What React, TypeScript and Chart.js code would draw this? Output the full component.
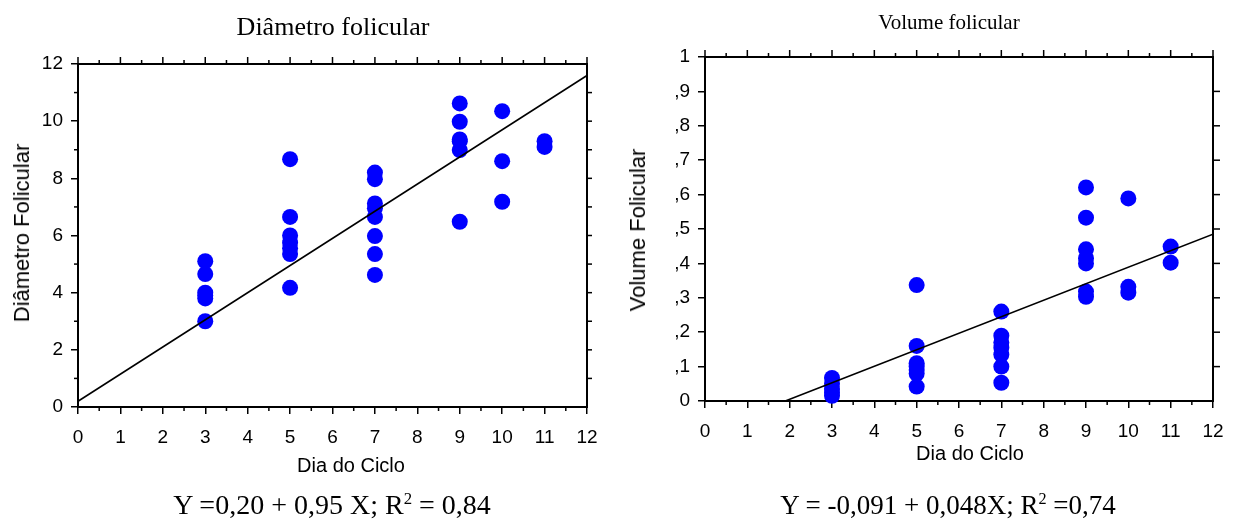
import React, { useEffect, useRef } from 'react';
import { Chart, registerables } from 'chart.js';

Chart.register(...registerables);

// ---------------- Data ----------------
const dayTicks = [0, 1, 2, 3, 4, 5, 6, 7, 8, 9, 10, 11, 12];
const diameterTicks = [0, 2, 4, 6, 8, 10, 12];
const volumeTicks = [0, 0.1, 0.2, 0.3, 0.4, 0.5, 0.6, 0.7, 0.8, 0.9, 1];

const diameterDays = [3, 3, 3, 3, 3, 3, 5, 5, 5, 5, 5, 5, 5, 7, 7, 7, 7, 7, 7, 7, 7, 9, 9, 9, 9, 9, 9, 10, 10, 10, 11, 11];
const diameterValues = [5.1, 4.65, 4.0, 3.9, 3.8, 3.0, 8.67, 6.65, 6.0, 5.75, 5.55, 5.35, 4.17, 8.2, 7.97, 7.12, 6.95, 6.65, 5.98, 5.35, 4.62, 10.62, 9.98, 9.36, 9.3, 8.99, 6.48, 10.35, 8.6, 7.18, 9.3, 9.1];

const volumeDays = [3, 3, 3, 3, 3, 5, 5, 5, 5, 5, 5, 5, 7, 7, 7, 7, 7, 7, 7, 9, 9, 9, 9, 9, 9, 9, 10, 10, 10, 11, 11];
const volumeValues = [0.067, 0.05, 0.035, 0.025, 0.015, 0.337, 0.16, 0.11, 0.1, 0.09, 0.08, 0.042, 0.26, 0.19, 0.17, 0.155, 0.135, 0.1, 0.053, 0.621, 0.533, 0.441, 0.415, 0.4, 0.318, 0.303, 0.589, 0.332, 0.315, 0.449, 0.402];

const diameterFit = [0.2, 0.95]; // intercept, slope
const volumeFit = [-0.091, 0.048];

// ---------------- Styles ----------------
const SANS = "'Liberation Sans', Arial, sans-serif";
const SERIF = "'Liberation Serif', 'Times New Roman', serif";
const DOT = '#0000ff';

type Panel = {
  days: number[];
  values: number[];
  fit: number[];
  yTicks: number[];
  yMax: number;
  yLabel: (v: number) => string;
  yMinor: number[];
  rightTicks: number[];
  rightLen: number;
  pad: { left: number; top: number; right: number; bottom: number };
  yWidth: number;
  xHeight: number;
};

function framePlugin(p: Panel) {
  return {
    id: 'frameTicks',
    afterDraw(chart: any) {
      const { ctx, chartArea: a, scales } = chart;
      const x = scales.x;
      const y = scales.y;
      ctx.save();
      ctx.strokeStyle = '#000';
      ctx.lineWidth = 2;
      ctx.beginPath();
      ctx.moveTo(a.left - 1, a.top);
      ctx.lineTo(a.right, a.top);
      ctx.lineTo(a.right, a.bottom + 1);
      ctx.stroke();
      ctx.lineWidth = 1.5;
      const seg = (x1: number, y1: number, x2: number, y2: number) => {
        ctx.beginPath();
        ctx.moveTo(x1, y1);
        ctx.lineTo(x2, y2);
        ctx.stroke();
      };
      dayTicks.forEach((d) => {
        const px = x.getPixelForValue(d);
        seg(px, a.top, px, a.top - 7);
        if (d < dayTicks[dayTicks.length - 1]) {
          const pm = x.getPixelForValue(d + 0.5);
          seg(pm, a.top, pm, a.top - 4);
          seg(pm, a.bottom, pm, a.bottom + 4);
        }
      });
      p.yMinor.forEach((v) => {
        const py = y.getPixelForValue(v);
        seg(a.left, py, a.left - 4, py);
      });
      p.rightTicks.forEach((v) => {
        const py = y.getPixelForValue(v);
        seg(a.right, py, a.right + p.rightLen, py);
      });
      ctx.restore();
    },
  };
}

function makeConfig(p: Panel): any {
  const points = p.days.map((d, i) => ({ x: d, y: p.values[i] }));
  const line = [0, 12].map((d) => ({ x: d, y: p.fit[0] + p.fit[1] * d }));
  const tickFont = { family: SANS, size: 19 };
  return {
    type: 'scatter',
    data: {
      datasets: [
        {
          data: line,
          showLine: true,
          borderColor: '#000',
          borderWidth: 1.6,
          pointRadius: 0,
          fill: false,
        },
        {
          data: points,
          backgroundColor: DOT,
          borderColor: DOT,
          borderWidth: 0,
          pointRadius: 8,
          clip: false,
        },
      ],
    },
    options: {
      animation: false,
      responsive: false,
      events: [],
      layout: { padding: p.pad },
      plugins: { legend: { display: false }, tooltip: { enabled: false }, title: { display: false } },
      scales: {
        x: {
          type: 'linear',
          min: 0,
          max: 12,
          afterBuildTicks: (s: any) => {
            s.ticks = dayTicks.map((value) => ({ value }));
          },
          afterFit: (s: any) => {
            s.height = p.xHeight;
          },
          grid: { drawOnChartArea: false, drawTicks: true, tickLength: 7, color: '#000', lineWidth: 1.5 },
          border: { display: true, color: '#000', width: 2 },
          ticks: { color: '#000', font: tickFont, padding: 12, maxRotation: 0, autoSkip: false, callback: (v: any) => String(v) },
        },
        y: {
          type: 'linear',
          min: 0,
          max: p.yMax,
          afterBuildTicks: (s: any) => {
            s.ticks = p.yTicks.map((value) => ({ value }));
          },
          afterFit: (s: any) => {
            s.width = p.yWidth;
          },
          grid: { drawOnChartArea: false, drawTicks: true, tickLength: 7, color: '#000', lineWidth: 1.5 },
          border: { display: true, color: '#000', width: 2 },
          ticks: { color: '#000', font: tickFont, padding: 8, autoSkip: false, callback: (v: any) => p.yLabel(Number(v)) },
        },
      },
    },
    plugins: [framePlugin(p)],
  };
}

const leftPanel: Panel = {
  days: diameterDays,
  values: diameterValues,
  fit: diameterFit,
  yTicks: diameterTicks,
  yMax: 12,
  yLabel: (v) => String(v),
  yMinor: [1, 3, 5, 7, 9, 11],
  rightTicks: [1, 2, 3, 4, 5, 6, 7, 8, 9, 10, 11],
  rightLen: 5,
  pad: { left: 0, top: 64, right: 32, bottom: 0 },
  yWidth: 78,
  xHeight: 116,
};

const rightPanel: Panel = {
  days: volumeDays,
  values: volumeValues,
  fit: volumeFit,
  yTicks: volumeTicks,
  yMax: 1,
  yLabel: (v) => (v === 0 ? '0' : v >= 0.999 ? '1' : ',' + Math.round(v * 10)),
  yMinor: [],
  rightTicks: [0.1, 0.2, 0.3, 0.4, 0.5, 0.6, 0.7, 0.8, 0.9],
  rightLen: 7,
  pad: { left: 0, top: 57, right: 25, bottom: 0 },
  yWidth: 86,
  xHeight: 122,
};

function ChartCanvas({ panel, left }: { panel: Panel; left: number }) {
  const ref = useRef<HTMLCanvasElement | null>(null);
  useEffect(() => {
    if (!ref.current) return;
    const chart = new Chart(ref.current, makeConfig(panel));
    return () => chart.destroy();
  }, [panel]);
  return (
    <canvas
      ref={ref}
      width={619}
      height={523}
      style={{ position: 'absolute', left, top: 0, width: 619, height: 523 }}
    />
  );
}

function Label({ x, y, font, size, rotate, children }: any) {
  return (
    <div
      style={{
        position: 'absolute',
        left: x,
        top: y,
        transform: `translate(-50%, -50%)${rotate ? ' rotate(-90deg)' : ''}`,
        fontFamily: font,
        fontSize: size,
        lineHeight: 1,
        whiteSpace: 'nowrap',
        color: '#000',
      }}
    >
      {children}
    </div>
  );
}

const supStyle = { fontSize: '0.6em', verticalAlign: '0.65em' };

export default function App() {
  return (
    <div style={{ position: 'absolute', left: 0, top: 0, width: 1238, height: 523, overflow: 'hidden', background: '#fff' }}>
      <ChartCanvas panel={leftPanel} left={0} />
      <ChartCanvas panel={rightPanel} left={619} />
      <Label x={333} y={27} font={SERIF} size={26}>Diâmetro folicular</Label>
      <Label x={949} y={22} font={SERIF} size={21}>Volume folicular</Label>
      <Label x={22} y={233} font={SANS} size={22} rotate>Diâmetro Folicular</Label>
      <Label x={638} y={230} font={SANS} size={22} rotate>Volume Folicular</Label>
      <Label x={351} y={465} font={SANS} size={20}>Dia do Ciclo</Label>
      <Label x={970} y={453} font={SANS} size={20}>Dia do Ciclo</Label>
      <Label x={332} y={505} font={SERIF} size={28}>
        Y =0,20 + 0,95 X; R<sup style={supStyle}>2</sup> = 0,84
      </Label>
      <Label x={948} y={505} font={SERIF} size={27}>
        Y = -0,091 + 0,048X; R<sup style={supStyle}>2</sup> =0,74
      </Label>
    </div>
  );
}
